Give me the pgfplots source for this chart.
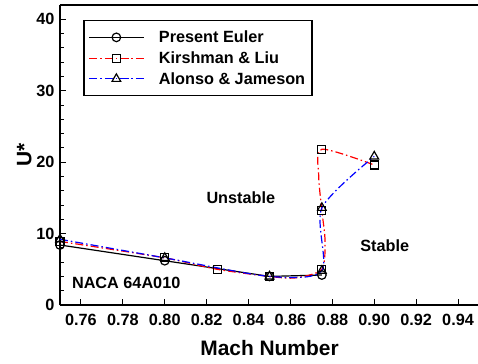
\documentclass[border=0pt]{standalone}
\usepackage{pgfplots}
\pgfplotsset{compat=1.18}
\usepackage{fontspec}
\setmainfont{Liberation Sans}
\begin{document}
\begin{tikzpicture}
\path[use as bounding box] (-60bp,-59bp) rectangle (418bp,305bp);
\begin{axis}[
  at={(0,0)}, anchor=south west,
  scale only axis, width=419bp, height=300bp,
  xmin=0.75, xmax=0.95, ymin=0, ymax=42,
  axis line style={line width=1.5pt},
  axis x line*=bottom, axis y line*=left,
  xtick={0.76,0.78,...,0.945},
  ytick={0,10,20,30,40},
  minor y tick num=4,
  tick align=inside,
  major tick length=6bp, minor tick length=4bp,
  tick style={line width=1pt, black},
  /pgf/number format/assume math mode=true,
  ticklabel style={font=\fontsize{16.3}{19}\selectfont\bfseries},
  xticklabel style={/pgf/number format/fixed, /pgf/number format/fixed zerofill, /pgf/number format/precision=2, yshift=-6bp},
  yticklabel style={xshift=-2bp},
  xlabel={Mach Number}, ylabel={U*},
  label style={font=\fontsize{21}{24}\selectfont\bfseries},
  xlabel style={yshift=-7bp},
  ylabel style={yshift=-2bp},
  clip=false,
  legend cell align=left,
  legend style={at={(rel axis cs:0.055,0.95)}, anchor=north west,
    draw=black, line width=1.5pt, font=\fontsize{16.3}{19}\selectfont\bfseries,
    row sep=3.5bp, inner xsep=5bp, inner ysep=8bp,
    /tikz/every odd column/.append style={column sep=12bp}},
  legend image code/.code={\draw[#1, mark indices={2}] plot coordinates {(0bp,0bp) (27bp,0bp) (55bp,0bp)};},
]
% top border
\draw[line width=1.5pt] (rel axis cs:0,1) -- (rel axis cs:1,1);

\addplot[black, line width=1.2pt, mark=o, mark size=4.3bp, mark options={solid, line width=1.2pt, fill=white}]
  coordinates {(0.75,8.4) (0.80,6.2) (0.85,4.0) (0.875,4.2)};
\addlegendentry{Present Euler}

\addplot[red, line width=1.2pt, dash pattern=on 8bp off 3bp on 1.5bp off 3bp, smooth, tension=0.45,
  mark=square, mark size=4bp, mark indices={1,2,3,4,6,8,10,11}, mark options={solid, black, line width=1.2pt}]
  coordinates {(0.75,8.9) (0.80,6.6) (0.825,5.0) (0.85,4.0) (0.8625,3.8) (0.875,5.0) (0.8765,9) (0.875,13.2) (0.8735,18) (0.875,21.8) (0.90,19.6)};
\addlegendentry{Kirshman \& Liu}

\addplot[blue, line width=1.2pt, dash pattern=on 8bp off 3bp on 1.5bp off 3bp, smooth, tension=0.45,
  mark=triangle, mark size=5bp, mark options={solid, black, line width=1.2pt}]
  coordinates {(0.75,9.2) (0.80,6.6) (0.85,4.0) (0.875,4.8) (0.875,13.6) (0.90,20.8)};
\addlegendentry{Alonso \& Jameson}

\node[font=\fontsize{16.3}{19}\selectfont\bfseries] at (axis cs:0.8363,15.0) {Unstable};
\node[font=\fontsize{16.3}{19}\selectfont\bfseries] at (axis cs:0.905,8.3) {Stable};
\node[font=\fontsize{16.3}{19}\selectfont\bfseries] at (axis cs:0.7816,3.1) {NACA 64A010};
\end{axis}
\end{tikzpicture}
\end{document}
